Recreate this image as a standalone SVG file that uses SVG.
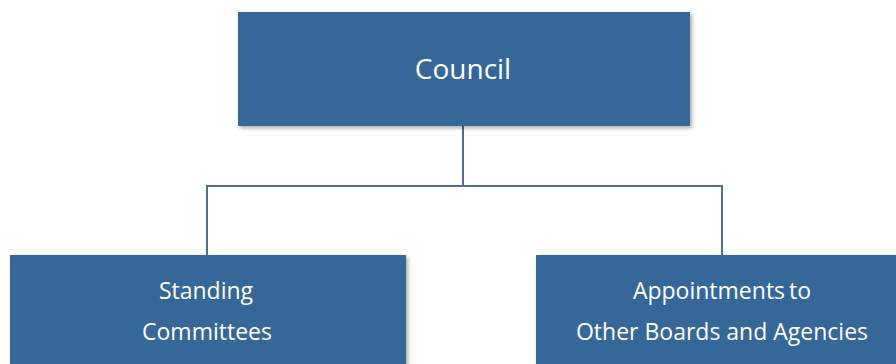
<svg xmlns="http://www.w3.org/2000/svg" width="896" height="364" viewBox="0 0 896 364">
  <style>
    .box { fill: #346798; filter: url(#shadow); }
    .label { font-family: "Open Sans", "Liberation Sans", sans-serif; fill: #ffffff; text-anchor: middle; }
    .link { fill: none; stroke: #4a70a0; stroke-width: 2; }
  </style>
  <defs>
    <filter id="shadow" x="-5%" y="-10%" width="110%" height="130%">
      <feGaussianBlur in="SourceAlpha" stdDeviation="2"/>
      <feOffset dx="2" dy="2" result="b"/>
      <feFlood flood-color="#000" flood-opacity="0.35"/>
      <feComposite in2="b" operator="in"/>
      <feMerge><feMergeNode/><feMergeNode in="SourceGraphic"/></feMerge>
    </filter>
  </defs>
  <rect width="896" height="364" fill="#ffffff"/>

  <g id="connectors">
    <path class="link" d="M463 126 V186 M207 255 V186 H722 V255"/>
  </g>

  <g id="council">
    <rect class="box" x="238" y="12" width="452" height="114"/>
    <text class="label" x="463" y="79" font-size="28">Council</text>
  </g>

  <g id="standing-committees">
    <rect class="box" x="10" y="255" width="396" height="120"/>
    <text class="label" x="206" y="299" font-size="23">Standing</text>
    <text class="label" x="207" y="340" font-size="23">Committees</text>
  </g>

  <g id="appointments">
    <rect class="box" x="536" y="255" width="370" height="120"/>
    <text class="label" x="722" y="299" font-size="23" word-spacing="-2">Appointments to</text>
    <text class="label" x="722" y="340" font-size="23">Other Boards and Agencies</text>
  </g>
</svg>
